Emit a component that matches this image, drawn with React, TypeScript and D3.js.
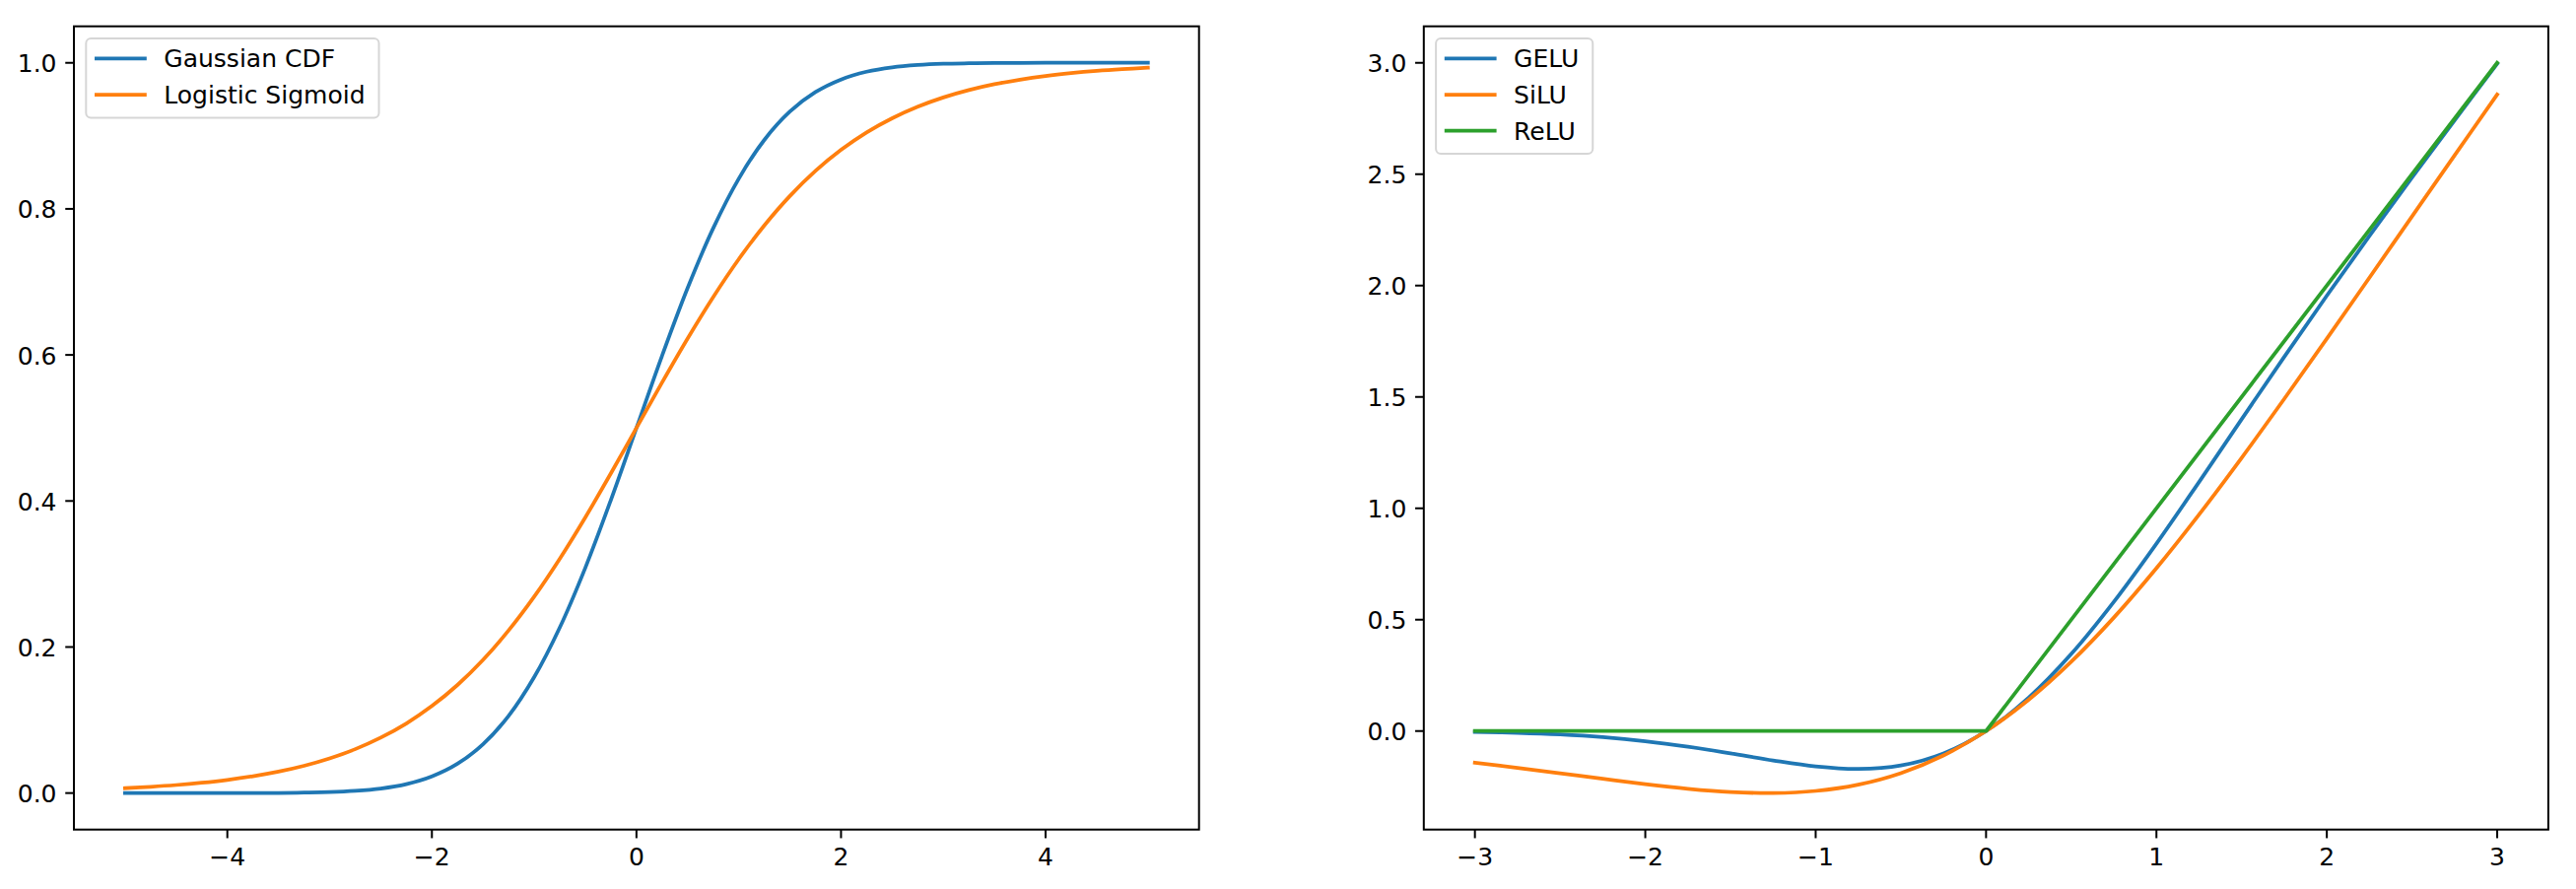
import React, { useEffect, useRef } from "react";
import * as d3 from "d3";

// left panel: values every 0.25 on x
const leftX = [
  -5, -4.75, -4.5, -4.25, -4, -3.75, -3.5, -3.25, -3, -2.75, -2.5, -2.25, -2, -1.75, -1.5, -1.25, -1, -0.75, -0.5, -0.25,
  0, 0.25, 0.5, 0.75, 1, 1.25, 1.5, 1.75, 2, 2.25, 2.5, 2.75, 3, 3.25, 3.5, 3.75, 4, 4.25, 4.5, 4.75, 5,
];
const gaussianCdf = [
  0.0, 0.0, 0.0, 0.0, 0.0, 0.0001, 0.0002, 0.0006, 0.0013, 0.003, 0.0062, 0.0122, 0.0228, 0.0401, 0.0668, 0.1056, 0.1587, 0.2266, 0.3085, 0.4013,
  0.5, 0.5987, 0.6915, 0.7734, 0.8413, 0.8944, 0.9332, 0.9599, 0.9772, 0.9878, 0.9938, 0.997, 0.9987, 0.9994, 0.9998, 0.9999, 1.0, 1.0, 1.0, 1.0, 1.0,
];
const logisticSigmoid = [
  0.0067, 0.0086, 0.011, 0.0141, 0.018, 0.023, 0.0293, 0.0373, 0.0474, 0.0601, 0.0759, 0.0953, 0.1192, 0.148, 0.1824, 0.2227, 0.2689, 0.3208, 0.3775, 0.4378,
  0.5, 0.5622, 0.6225, 0.6792, 0.7311, 0.7773, 0.8176, 0.852, 0.8808, 0.9047, 0.9241, 0.9399, 0.9526, 0.9627, 0.9707, 0.977, 0.982, 0.9859, 0.989, 0.9914, 0.9933,
];

// right panel
const rightX = [-3, -2.75, -2.5, -2.25, -2, -1.75, -1.5, -1.25, -1, -0.75, -0.5, -0.25, 0, 0.25, 0.5, 0.75, 1, 1.25, 1.5, 1.75, 2, 2.25, 2.5, 2.75, 3];
const gelu = [
  -0.004, -0.0082, -0.0155, -0.0275, -0.0455, -0.0701, -0.1002, -0.132, -0.1587, -0.17, -0.1543, -0.1003,
  0, 0.1497, 0.3457, 0.58, 0.8413, 1.118, 1.3998, 1.6798, 1.9545, 2.2226, 2.4845, 2.7418, 2.996,
];
const silu = [
  -0.1423, -0.1653, -0.1897, -0.2144, -0.2384, -0.259, -0.2736, -0.2784, -0.2689, -0.2406, -0.1888, -0.1094,
  0, 0.1406, 0.3112, 0.5094, 0.7311, 0.9716, 1.2264, 1.491, 1.7616, 2.0356, 2.3103, 2.5847, 2.8577,
];
const reluX = [-3, 0, 3];
const relu = [0, 0, 3];

const leftXTicks = [-4, -2, 0, 2, 4];
const leftYTicks = [0, 0.2, 0.4, 0.6, 0.8, 1.0];
const rightXTicks = [-3, -2, -1, 0, 1, 2, 3];
const rightYTicks = [0, 0.5, 1, 1.5, 2, 2.5, 3];

const palette = ["#1f77b4", "#ff7f0e", "#2ca02c"];

const W = 2614;
const H = 902;
const FONT = "DejaVu Sans";

interface Series {
  name: string;
  xs: number[];
  ys: number[];
  smooth: boolean;
}

interface Panel {
  box: { x0: number; x1: number; y0: number; y1: number };
  series: Series[];
  xTicks: number[];
  yTicks: number[];
  xFmt: (v: number) => string;
  yFmt: (v: number) => string;
}

const panels: Panel[] = [
  {
    box: { x0: 75, x1: 1216.7, y0: 26.7, y1: 841.7 },
    series: [
      { name: "Gaussian CDF", xs: leftX, ys: gaussianCdf, smooth: true },
      { name: "Logistic Sigmoid", xs: leftX, ys: logisticSigmoid, smooth: true },
    ],
    xTicks: leftXTicks,
    yTicks: leftYTicks,
    xFmt: d3.format("d"),
    yFmt: d3.format(".1f"),
  },
  {
    box: { x0: 1444.8, x1: 2585.9, y0: 26.7, y1: 841.7 },
    series: [
      { name: "GELU", xs: rightX, ys: gelu, smooth: true },
      { name: "SiLU", xs: rightX, ys: silu, smooth: true },
      { name: "ReLU", xs: reluX, ys: relu, smooth: false },
    ],
    xTicks: rightXTicks,
    yTicks: rightYTicks,
    xFmt: d3.format("d"),
    yFmt: d3.format(".1f"),
  },
];

// matplotlib-style 5% margins
const padded = (vals: number[]) => {
  const [lo, hi] = d3.extent(vals) as [number, number];
  const m = (hi - lo) * 0.05;
  return [lo - m, hi + m];
};

export default function App() {
  const svgRef = useRef<SVGSVGElement | null>(null);

  useEffect(() => {
    document.body.style.margin = "0";
    if (!svgRef.current) return;
    const svg = d3.select(svgRef.current);
    svg.selectAll("*").remove();

    panels.forEach((p) => {
      const { x0, x1, y0, y1 } = p.box;
      const x = d3
        .scaleLinear()
        .domain(padded(p.series.flatMap((s) => s.xs)))
        .range([x0, x1]);
      const y = d3
        .scaleLinear()
        .domain(padded(p.series.flatMap((s) => s.ys)))
        .range([y1, y0]);

      const g = svg.append("g");

      // curves
      p.series.forEach((s, i) => {
        const line = d3
          .line<number>()
          .x((_, k) => x(s.xs[k]))
          .y((d) => y(d))
          .curve(s.smooth ? d3.curveCatmullRom.alpha(0.5) : d3.curveLinear);
        g.append("path")
          .attr("d", line(s.ys))
          .attr("fill", "none")
          .attr("stroke", palette[i])
          .attr("stroke-width", 3.75)
          .attr("stroke-linecap", "square")
          .attr("stroke-linejoin", "round");
      });

      // spines
      g.append("rect")
        .attr("x", x0)
        .attr("y", y0)
        .attr("width", x1 - x0)
        .attr("height", y1 - y0)
        .attr("fill", "none")
        .attr("stroke", "#000")
        .attr("stroke-width", 2);

      // x ticks
      p.xTicks.forEach((t) => {
        g.append("line")
          .attr("x1", x(t))
          .attr("x2", x(t))
          .attr("y1", y1)
          .attr("y2", y1 + 8.75)
          .attr("stroke", "#000")
          .attr("stroke-width", 2);
        g.append("text")
          .attr("x", x(t))
          .attr("y", y1 + 36.5)
          .attr("text-anchor", "middle")
          .attr("font-family", FONT)
          .attr("font-size", 25)
          .attr("fill", "#000")
          .text(p.xFmt(t));
      });

      // y ticks
      p.yTicks.forEach((t) => {
        g.append("line")
          .attr("x1", x0)
          .attr("x2", x0 - 8.75)
          .attr("y1", y(t))
          .attr("y2", y(t))
          .attr("stroke", "#000")
          .attr("stroke-width", 2);
        g.append("text")
          .attr("x", x0 - 17.5)
          .attr("y", y(t) + 9.5)
          .attr("text-anchor", "end")
          .attr("font-family", FONT)
          .attr("font-size", 25)
          .attr("fill", "#000")
          .text(p.yFmt(t));
      });

      // legend, upper left
      const lg = g.append("g").attr("transform", `translate(${x0 + 12.3},${y0 + 12.3})`);
      const frame = lg.append("rect");
      let maxLen = 0;
      p.series.forEach((s, i) => {
        const cy = 20.3 + i * 36.7;
        lg.append("line")
          .attr("x1", 8.7)
          .attr("x2", 61.5)
          .attr("y1", cy)
          .attr("y2", cy)
          .attr("stroke", palette[i])
          .attr("stroke-width", 3.75);
        const txt = lg
          .append("text")
          .attr("x", 79)
          .attr("y", cy + 9)
          .attr("font-family", FONT)
          .attr("font-size", 25)
          .attr("fill", "#000")
          .text(s.name);
        const n = (txt.node() as SVGTextElement).getComputedTextLength();
        if (n > maxLen) maxLen = n;
      });
      frame
        .attr("x", 0)
        .attr("y", 0)
        .attr("width", 79 + maxLen + 14)
        .attr("height", p.series.length * 36.7 + 7)
        .attr("rx", 5)
        .attr("fill", "#fff")
        .attr("fill-opacity", 0.8)
        .attr("stroke", "#cccccc")
        .attr("stroke-opacity", 0.8)
        .attr("stroke-width", 2);
    });
  }, []);

  return (
    <svg
      ref={svgRef}
      width={W}
      height={H}
      style={{ display: "block", background: "#fff" }}
    />
  );
}
